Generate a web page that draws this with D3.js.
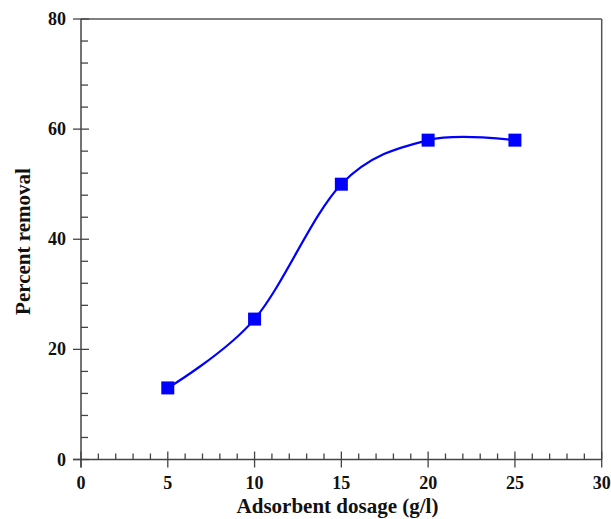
<!DOCTYPE html>
<html><head><meta charset="utf-8">
<script src="https://cdn.jsdelivr.net/npm/d3@7"></script>
<style>body{margin:0;background:#fff}svg{display:block}</style>
</head><body>
<script>
const dosage = [5, 10, 15, 20, 25];
const removal = [13, 25.5, 50, 58, 58];
const xTicks = [0, 5, 10, 15, 20, 25, 30];
const yTicks = [0, 20, 40, 60, 80];

const W = 611, H = 519;
const svg = d3.select("body").append("svg").attr("width", W).attr("height", H);
const x = d3.scaleLinear().domain([0, 30]).range([81, 601.7]);
const y = d3.scaleLinear().domain([0, 80]).range([459.5, 19]);
const axisCol = "#444";
const font = "'Liberation Serif','Times New Roman',serif";

// frame top/right
svg.append("line").attr("x1", x(0)).attr("x2", x(30)).attr("y1", y(80)).attr("y2", y(80)).attr("stroke", "#555").attr("stroke-width", 1.5);
svg.append("line").attr("x1", x(30)).attr("x2", x(30)).attr("y1", y(80)).attr("y2", y(0)).attr("stroke", "#555").attr("stroke-width", 1.5);

// x axis
const gx = svg.append("g");
gx.append("line").attr("x1", x(0) - 8).attr("x2", x(30)).attr("y1", y(0)).attr("y2", y(0)).attr("stroke", axisCol).attr("stroke-width", 1.5);
d3.range(0, 31, 1).forEach(v => {
  const major = v % 5 === 0;
  gx.append("line").attr("x1", x(v)).attr("x2", x(v))
    .attr("y1", major ? y(0) - 8 : y(0) - 6).attr("y2", major ? y(0) + 8 : y(0))
    .attr("stroke", axisCol).attr("stroke-width", 1.3);
});
gx.selectAll("text").data(xTicks).join("text")
  .attr("x", d => x(d)).attr("y", 489).attr("text-anchor", "middle")
  .attr("font-family", font).attr("font-weight", "bold").attr("font-size", 18).attr("fill", "#111")
  .text(d => d);

// y axis
const gy = svg.append("g");
gy.append("line").attr("x1", x(0)).attr("x2", x(0)).attr("y1", y(80)).attr("y2", y(0) + 8).attr("stroke", axisCol).attr("stroke-width", 1.5);
d3.range(0, 81, 4).forEach(v => {
  const major = v % 20 === 0;
  gy.append("line").attr("y1", y(v)).attr("y2", y(v))
    .attr("x1", major ? x(0) - 8 : x(0)).attr("x2", major ? x(0) + 8 : x(0) + 7)
    .attr("stroke", axisCol).attr("stroke-width", 1.3);
});
gy.selectAll("text").data(yTicks).join("text")
  .attr("x", 66).attr("y", d => y(d) + 6).attr("text-anchor", "end")
  .attr("font-family", font).attr("font-weight", "bold").attr("font-size", 18).attr("fill", "#111")
  .text(d => d);

// titles
svg.append("text").attr("x", 337.5).attr("y", 513).attr("text-anchor", "middle")
  .attr("font-family", font).attr("font-weight", "bold").attr("font-size", 21).attr("fill", "#111")
  .text("Adsorbent dosage (g/l)");
svg.append("text").attr("transform", "translate(30,241.5) rotate(-90)").attr("text-anchor", "middle")
  .attr("font-family", font).attr("font-weight", "bold").attr("font-size", 21).attr("fill", "#111")
  .text("Percent removal");

// curve
const pts = dosage.map((d, i) => [d, removal[i]]);
const line = d3.line().x(d => x(d[0])).y(d => y(d[1])).curve(d3.curveCardinal.tension(0));
svg.append("path").attr("d", line(pts)).attr("fill", "none").attr("stroke", "#0000ff").attr("stroke-width", 2.2);

// markers
svg.selectAll("rect.m").data(pts).join("rect").attr("class", "m")
  .attr("x", d => x(d[0]) - 6.5).attr("y", d => y(d[1]) - 6.5)
  .attr("width", 13).attr("height", 13).attr("fill", "#0000ff");
</script>
</body></html>
